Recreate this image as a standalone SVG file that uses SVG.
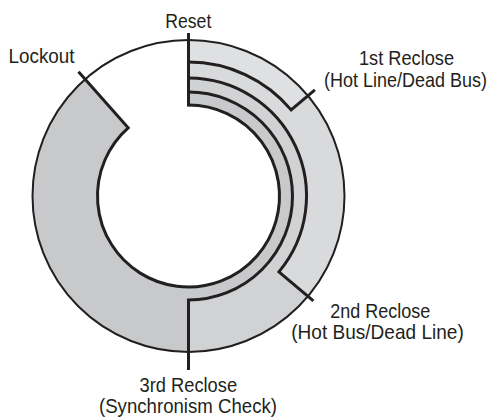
<svg xmlns="http://www.w3.org/2000/svg" width="494" height="419" viewBox="0 0 494 419">
  <style>
    .lbl { font-family: "Liberation Sans", Arial, sans-serif; font-size: 21px; fill: #231f20; text-anchor: middle; }
    .ln { fill: none; stroke: #231f20; stroke-width: 3; stroke-linejoin: miter; }
    .outer { fill: none; stroke: #231f20; stroke-width: 2; }
  </style>
  <rect width="494" height="419" fill="#ffffff"/>
  <g id="segments">
    <path id="seg-3rd" fill="#c8c9cb" d="M188.5,40 A156,156 0 1 1 85.13,79.16 L128.2,127.84 A91,91 0 1 0 188.5,105 Z"/>
    <path id="seg-2nd" fill="#d1d2d4" d="M188.5,40 A156,156 0 0 1 188.5,352 L188.5,300 A104,104 0 0 0 188.5,92 Z"/>
    <path id="seg-1st" fill="#d9dadc" d="M188.5,40 A156,156 0 0 1 308,296.28 L278.89,271.85 A118,118 0 0 0 188.5,78 Z"/>
    <path id="seg-reset" fill="#dfe0e2" d="M188.5,40 A156,156 0 0 1 308,95.72 L291.14,109.86 A134,134 0 0 0 188.5,62 Z"/>
  </g>
  <g id="connectors">
    <circle class="outer" cx="188.5" cy="196" r="156"/>
    <path class="ln" d="M188.5,33 V106.5"/>
    <path class="ln" d="M188.5,62 A134,134 0 0 1 291.14,109.86 L314.89,89.94"/>
    <path class="ln" d="M188.5,78 A118,118 0 0 1 278.89,271.85 L313.36,300.78"/>
    <path class="ln" d="M188.5,92 A104,104 0 0 1 188.5,300 L188.5,370"/>
    <path class="ln" d="M188.5,105 A91,91 0 1 1 128.2,127.84 L78.5,71.67"/>
  </g>
  <g id="label-reset">
    <text class="lbl" x="188.3" y="28.3" textLength="46" lengthAdjust="spacingAndGlyphs">Reset</text>
  </g>
  <g id="label-lockout">
    <text class="lbl" x="41.5" y="62.7" textLength="66" lengthAdjust="spacingAndGlyphs">Lockout</text>
  </g>
  <g id="label-1st">
    <text class="lbl" x="406.5" y="65" textLength="95" lengthAdjust="spacingAndGlyphs">1st Reclose</text>
    <text class="lbl" x="405.5" y="86.7" textLength="163" lengthAdjust="spacingAndGlyphs">(Hot Line/Dead Bus)</text>
  </g>
  <g id="label-2nd">
    <text class="lbl" x="380.3" y="317.7" textLength="100" lengthAdjust="spacingAndGlyphs">2nd Reclose</text>
    <text class="lbl" x="377.5" y="339.3" textLength="172.5" lengthAdjust="spacingAndGlyphs">(Hot Bus/Dead Line)</text>
  </g>
  <g id="label-3rd">
    <text class="lbl" x="188.3" y="392.3" textLength="97.5" lengthAdjust="spacingAndGlyphs">3rd Reclose</text>
    <text class="lbl" x="188" y="413.3" textLength="178" lengthAdjust="spacingAndGlyphs">(Synchronism Check)</text>
  </g>
</svg>
